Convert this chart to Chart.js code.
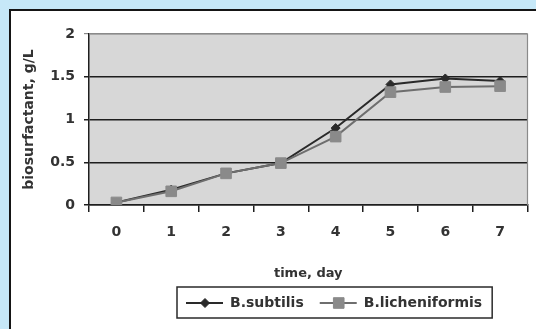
<!DOCTYPE html>
<html lang="en">
<head>
    <meta charset="UTF-8">
    <title>Biosurfactant production</title>
    <script src="https://cdn.jsdelivr.net/npm/chart.js"></script>
    <style>
        html, body { margin: 0; padding: 0; overflow: hidden; background: #fff; }
        #growthChart { display: block; }
    </style>
</head>
<body>
    <canvas id="growthChart" width="536" height="329"></canvas>
<script>
    var days = ['0', '1', '2', '3', '4', '5', '6', '7'];
    var subtilis = [0.03, 0.18, 0.37, 0.49, 0.90, 1.41, 1.48, 1.45];
    var licheniformis = [0.03, 0.16, 0.37, 0.49, 0.80, 1.32, 1.38, 1.39];
    var yTicks = [0, 0.5, 1, 1.5, 2];
    var yTickLabels = ['0', '0.5', '1', '1.5', '2'];

    var textColor = '#333333';
    var fontFamily = '"DejaVu Sans", Arial, sans-serif';
    var W = 536, H = 329;

    // light blue page, white panel with black edge on left and top, gray plot area
    var plotBackground = {
        id: 'plotBackground',
        beforeDraw: function (chart) {
            var a = chart.chartArea, ctx = chart.ctx;
            ctx.save();
            ctx.fillStyle = '#c6e8f8';
            ctx.fillRect(0, 0, W, H);
            ctx.fillStyle = '#151515';
            ctx.fillRect(9, 9, W, H);
            ctx.fillStyle = '#ffffff';
            ctx.fillRect(11, 11, W, H);
            ctx.fillStyle = '#d7d7d7';
            ctx.fillRect(a.left, a.top, a.right - a.left, a.bottom - a.top);
            ctx.restore();
        },
        beforeDatasetsDraw: function (chart) {
            var a = chart.chartArea, ctx = chart.ctx;
            ctx.save();
            ctx.strokeStyle = '#8a8a8a';
            ctx.lineWidth = 1.2;
            ctx.beginPath();
            ctx.moveTo(a.left, a.top);
            ctx.lineTo(a.right, a.top);
            ctx.lineTo(a.right, a.bottom);
            ctx.stroke();
            ctx.restore();
        }
    };

    // boxed legend below the axis title
    var boxLegend = {
        id: 'boxLegend',
        afterDraw: function (chart) {
            var ctx = chart.ctx;
            var x0 = 177, y0 = 287, h = 31;
            var cy = y0 + h / 2 + 0.5;
            ctx.save();
            ctx.font = 'bold 14px ' + fontFamily;
            ctx.textBaseline = 'middle';
            var x = x0 + 9;
            chart.data.datasets.forEach(function (ds) {
                ctx.strokeStyle = ds.borderColor;
                ctx.lineWidth = 2;
                ctx.beginPath();
                ctx.moveTo(x, cy);
                ctx.lineTo(x + 37, cy);
                ctx.stroke();
                ctx.fillStyle = ds.pointBackgroundColor;
                ctx.strokeStyle = ds.pointBorderColor;
                ctx.lineWidth = 1;
                Chart.helpers.drawPoint(ctx, {
                    pointStyle: ds.pointStyle,
                    radius: ds.pointRadius,
                    rotation: 0,
                    borderWidth: 1
                }, x + 19, cy);
                ctx.fillStyle = textColor;
                ctx.fillText(ds.label, x + 44, cy);
                x = x + 44 + ctx.measureText(ds.label).width + 16;
            });
            var w = x - 16 + 10 - x0;
            ctx.strokeStyle = '#2a2a2a';
            ctx.lineWidth = 1.5;
            ctx.strokeRect(x0, y0, w, h);
            ctx.restore();
        }
    };

    var ctx = document.getElementById('growthChart').getContext('2d');
    new Chart(ctx, {
        type: 'line',
        data: {
            labels: days,
            datasets: [{
                label: 'B.subtilis',
                data: subtilis,
                borderColor: '#2a2a2a',
                borderWidth: 2,
                pointStyle: 'rectRot',
                pointRadius: 4.5,
                pointBackgroundColor: '#2a2a2a',
                pointBorderColor: '#2a2a2a',
                pointBorderWidth: 1,
                tension: 0,
                order: 1
            }, {
                label: 'B.licheniformis',
                data: licheniformis,
                borderColor: '#6e6e6e',
                borderWidth: 2,
                pointStyle: 'rect',
                pointRadius: 7.5,
                pointBackgroundColor: '#8a8a8a',
                pointBorderColor: '#8a8a8a',
                pointBorderWidth: 1,
                tension: 0,
                order: 0
            }]
        },
        options: {
            responsive: false,
            animation: false,
            devicePixelRatio: 1,
            layout: { padding: { left: 11, top: 34, right: 7, bottom: 44 } },
            plugins: {
                legend: { display: false },
                tooltip: { enabled: false }
            },
            scales: {
                x: {
                    offset: true,
                    grid: {
                        offset: true,
                        drawOnChartArea: false,
                        drawTicks: true,
                        tickLength: 7,
                        color: '#1e1e1e',
                        lineWidth: 1.5
                    },
                    border: { color: '#1e1e1e', width: 1.5 },
                    ticks: {
                        color: textColor,
                        padding: 12,
                        maxRotation: 0,
                        font: { family: fontFamily, size: 14, weight: 'bold' }
                    },
                    title: {
                        display: true,
                        text: 'time, day',
                        color: textColor,
                        padding: { top: 0, bottom: 4 },
                        font: { family: fontFamily, size: 13, weight: 'bold' }
                    },
                    afterFit: function (scale) { scale.height = 80; }
                },
                y: {
                    min: 0,
                    max: 2,
                    afterBuildTicks: function (scale) {
                        scale.ticks = yTicks.map(function (v) { return { value: v }; });
                    },
                    grid: {
                        tickLength: 5,
                        color: function (c) { return c.tick && c.tick.value === 2 ? '#8a8a8a' : '#1e1e1e'; },
                        lineWidth: function (c) { return c.tick && c.tick.value === 2 ? 1.2 : 1.5; }
                    },
                    border: { color: '#1e1e1e', width: 1.5 },
                    ticks: {
                        color: textColor,
                        padding: 9,
                        font: { family: fontFamily, size: 14, weight: 'bold' },
                        callback: function (value, index) { return yTickLabels[index]; }
                    },
                    title: {
                        display: true,
                        text: 'biosurfactant, g/L',
                        color: textColor,
                        padding: { top: 10, bottom: 0 },
                        font: { family: fontFamily, size: 14, weight: 'bold' }
                    },
                    afterFit: function (scale) { scale.width = 78; }
                }
            }
        },
        plugins: [plotBackground, boxLegend]
    });
</script>
</body>
</html>
